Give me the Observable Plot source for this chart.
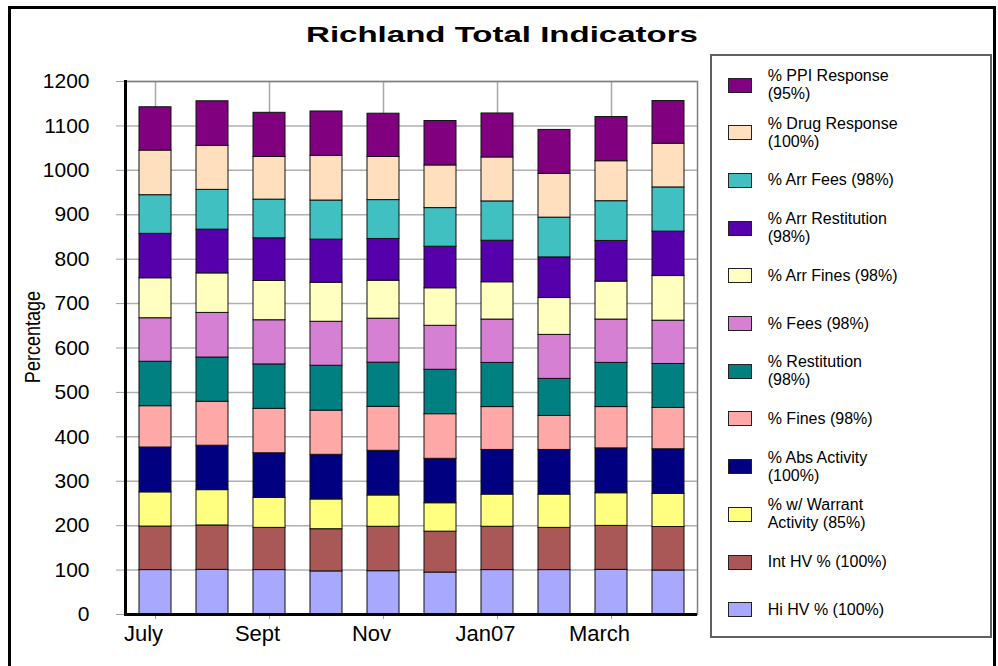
<!DOCTYPE html>
<html>
<head>
<meta charset="utf-8">
<script src="https://cdn.jsdelivr.net/npm/d3@7"></script>
<script src="https://cdn.jsdelivr.net/npm/@observablehq/plot@0.6"></script>
<style>
  body { margin: 0; background: #fff; font-family: "Liberation Sans", Arial, sans-serif; }
  #wrap { position: relative; width: 998px; height: 666px; overflow: hidden; background: #fff; }
  #outer { position: absolute; left: 8px; top: 6px; width: 988px; height: 720px; border: 3px solid #000; box-sizing: border-box; }
  #title { position: absolute; left: 501.5px; top: 24.4px; font-size: 22px; line-height: 22px; font-weight: bold; white-space: nowrap; color: #000;
           transform: translateX(-50%) scaleX(1.5); transform-origin: center; }
  #ylabel { position: absolute; left: 33px; top: 337px; font-size: 22px; line-height: 22px; white-space: nowrap; color: #000;
            transform: translate(-50%, -50%) rotate(-90deg) scale(0.82, 1); }
  #chart { position: absolute; left: 0; top: 0; }
  #legendbox { position: absolute; left: 710px; top: 54px; width: 282px; height: 584px; border: 2px solid #606060; box-sizing: border-box; background: #fff; }
  .item { position: absolute; left: 728px; height: 47.7px; display: flex; align-items: center; }
  .sw { width: 24px; height: 15px; box-sizing: border-box; border: 1px solid #222; margin-right: 15.7px; flex: none; }
  .lt { font-size: 16px; line-height: 18px; white-space: pre-line; color: #000; }
</style>
</head>
<body>
<div id="wrap">
  <div id="outer"></div>
  <div id="chart"></div>
  <div id="title">Richland Total Indicators</div>
  <div id="ylabel">Percentage</div>
  <div id="legendbox"></div>
</div>
<script>
// Categories
const months = ["July", "Aug", "Sept", "Oct", "Nov", "Dec", "Jan07", "Feb", "March", "April"];
const labeledMonths = ["July", "Sept", "Nov", "Jan07", "March"];
const yTicks = [0, 100, 200, 300, 400, 500, 600, 700, 800, 900, 1000, 1100, 1200];

// Series (bottom to top of each stack)
const seriesNames = [
  "Hi HV % (100%)",
  "Int HV % (100%)",
  "% w/ Warrant\nActivity (85%)",
  "% Abs Activity\n(100%)",
  "% Fines (98%)",
  "% Restitution\n(98%)",
  "% Fees (98%)",
  "% Arr Fines (98%)",
  "% Arr Restitution\n(98%)",
  "% Arr Fees (98%)",
  "% Drug Response\n(100%)",
  "% PPI Response\n(95%)"
];
const colors = ["#a8a8ff", "#aa5757", "#ffff80", "#000080", "#ffa8a8", "#008080",
                "#d580d3", "#ffffc0", "#5500aa", "#40c0c0", "#ffdfbd", "#800080"];

// Values per series, one per month
const hiHV        = [100, 100.5, 100, 97, 97.5, 94.5, 100, 100, 100.5, 99];
const intHV       = [98, 100, 95, 95, 100, 92, 97.5, 95, 99, 98];
const warrant     = [77, 79.5, 67.5, 67, 70.5, 64, 72.5, 75, 73.5, 74.5];
const absActivity = [101, 100, 100.5, 100.5, 100.5, 100, 100.5, 100.5, 101, 100.5];
const fines       = [93, 99, 100, 99.5, 99, 100.5, 96.5, 76.5, 93, 93];
const restitution = [100, 99.5, 100, 101, 99.5, 100, 99.5, 83.5, 99.5, 99];
const fees        = [98, 100.5, 99.5, 99, 99, 99, 97.5, 99, 97.5, 97.5];
const arrFines    = [90, 89, 88.5, 88, 85.5, 84.5, 84, 83, 85.5, 100.5];
const arrRest     = [100, 98.5, 96, 97, 94, 93.5, 93.5, 91.5, 91.5, 100];
const arrFees     = [87, 89.5, 87, 88, 87.5, 87, 88.5, 89.5, 89.5, 99.5];
const drug        = [100.5, 99, 96, 100.5, 97, 96, 99, 98.5, 90, 98.5];
const ppi         = [97.5, 100.5, 99.5, 100, 97.5, 100, 99, 99, 99.5, 96];

const seriesValues = [hiHV, intHV, warrant, absActivity, fines, restitution, fees, arrFines, arrRest, arrFees, drug, ppi];

const table = [];
seriesNames.forEach((s, i) => months.forEach((m, j) => table.push({month: m, series: s, value: seriesValues[i][j]})));

const chart = Plot.plot({
  width: 700,
  height: 666,
  marginLeft: 125,
  marginRight: 3,
  marginTop: 81,
  marginBottom: 52,
  style: {fontFamily: "Liberation Sans, Arial, sans-serif", background: "transparent", overflow: "visible", color: "black"},
  x: {domain: months, paddingInner: 0.446, paddingOuter: 0.223, label: null},
  y: {domain: [0, 1200], label: null},
  color: {domain: seriesNames, range: colors},
  marks: [
    Plot.gridY({ticks: yTicks, stroke: "#b0b0b0", strokeOpacity: 1, strokeWidth: 1.5}),
    Plot.gridX({ticks: labeledMonths, stroke: "#a8a8a8", strokeOpacity: 1, strokeWidth: 1.5}),
    Plot.frame({stroke: "#808080", strokeWidth: 1.5}),
    Plot.barY(table, {x: "month", y: "value", fill: "series", stroke: "#111", strokeWidth: 1}),
    Plot.axisY({ticks: yTicks, tickSize: 9, tickPadding: 27, stroke: "#a0a0a0", fill: "black", fontSize: 21, tickFormat: (d) => String(d), label: null}),
    Plot.axisX({ticks: labeledMonths, tickSize: 5, stroke: "#a0a0a0", tickFormat: () => "", label: null}),
    Plot.axisX({ticks: labeledMonths, tickSize: 0, tickPadding: 11, dx: -12, fill: "black", fontSize: 22, label: null}),
    Plot.ruleY([0], {stroke: "black", strokeWidth: 3}),
    Plot.frame({anchor: "left", stroke: "black", strokeWidth: 3})
  ]
});
document.getElementById("chart").appendChild(chart);

// Legend (top to bottom = top of stack to bottom)
const wrap = document.getElementById("wrap");
const order = seriesNames.map((s, i) => i).reverse();
order.forEach((idx, k) => {
  const item = document.createElement("div");
  item.className = "item";
  item.style.top = (61.2 + k * 47.7) + "px";
  const sw = document.createElement("div");
  sw.className = "sw";
  sw.style.background = colors[idx];
  const lt = document.createElement("div");
  lt.className = "lt";
  lt.textContent = seriesNames[idx];
  item.appendChild(sw);
  item.appendChild(lt);
  wrap.appendChild(item);
});
</script>
</body>
</html>
